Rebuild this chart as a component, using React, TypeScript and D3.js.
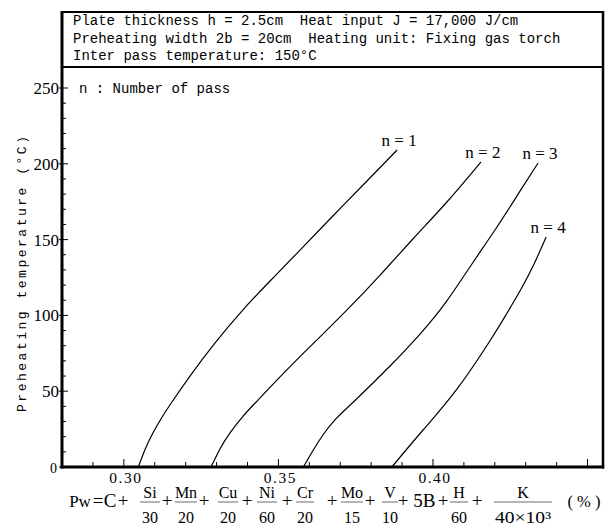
import React from "react";
import * as d3 from "d3";

// ---- Data ----
const pass1: [number, number][] = [
  [0.3047, 0], [0.3068, 11.2], [0.3094, 22.4], [0.312, 31.7], [0.3149, 40.9], [0.3214, 60.0], [0.3292, 81.1],
  [0.3379, 102.2], [0.3473, 122.7], [0.357, 143.1], [0.3673, 164.9], [0.3777, 186.7], [0.3884, 209.1],
];
const pass2: [number, number][] = [
  [0.3282, 0], [0.3311, 11.9], [0.3343, 22.4], [0.3386, 33.6], [0.3431, 43.5], [0.3521, 62.7], [0.3618, 82.5],
  [0.3722, 103.6], [0.3829, 126.6], [0.3935, 150.4], [0.4045, 174.8], [0.4155, 201.2],
];
const pass3: [number, number][] = [
  [0.3581, 0], [0.3609, 9.9], [0.3644, 21.1], [0.3686, 31.7], [0.3751, 44.5], [0.3861, 66.6], [0.3958, 87.7],
  [0.4042, 108.8], [0.4126, 133.9], [0.4207, 158.3], [0.4282, 182.1], [0.434, 200.5],
];
const pass4: [number, number][] = [
  [0.3867, 0], [0.3968, 24.4], [0.4078, 51.5], [0.4184, 83.1], [0.4236, 100.3],
  [0.4285, 117.4], [0.4327, 133.9], [0.4366, 151.7],
];
const seriesData = [pass1, pass2, pass3, pass4];
const seriesLabels = ["n = 1", "n = 2", "n = 3", "n = 4"];

const yTickLabels = [0, 50, 100, 150, 200, 250];
const yMinorTicks = d3.range(0, 251, 10);
const xTickLabels = [0.3, 0.35, 0.4];
const xMinorTicks = d3.range(29, 46).map((v) => v / 100);

const headerLines = [
  "Plate thickness h = 2.5cm  Heat input J = 17,000 J/cm",
  "Preheating width 2b = 20cm  Heating unit: Fixing gas torch",
  "Inter pass temperature: 150\u00B0C",
];
const noteText = "n : Number of pass";
const yTitle = "Preheating temperature (\u00B0C)";

// ---- Layout ----
const W = 607;
const H = 525;
const left = 62;
const right = 603;
const plotTop = 67;
const boxTop = 12;
const bottom = 467;

const x = d3.scaleLinear().domain([0.28, 0.455]).range([left, right]);
const y = d3.scaleLinear().domain([0, 250]).range([bottom, 88]);

const mono = "'Liberation Mono', 'DejaVu Sans Mono', monospace";
const serif = "'Liberation Serif', 'DejaVu Serif', serif";

type Tok =
  | { t: "m"; s: string; cx: number; size?: number; len?: number }
  | { t: "f"; n: string; d: string; cx: number; w: number; dlen?: number };

const formula: Tok[] = [
  { t: "m", s: "Pw", cx: 80, size: 17 },
  { t: "m", s: "=", cx: 98 },
  { t: "m", s: "C", cx: 110 },
  { t: "m", s: "+", cx: 123 },
  { t: "f", n: "Si", d: "30", cx: 150, w: 20 },
  { t: "m", s: "+", cx: 167 },
  { t: "f", n: "Mn", d: "20", cx: 186, w: 22 },
  { t: "m", s: "+", cx: 204 },
  { t: "f", n: "Cu", d: "20", cx: 228, w: 20 },
  { t: "m", s: "+", cx: 247 },
  { t: "f", n: "Ni", d: "60", cx: 267, w: 20 },
  { t: "m", s: "+", cx: 287 },
  { t: "f", n: "Cr", d: "20", cx: 305, w: 18 },
  { t: "m", s: "+", cx: 332 },
  { t: "f", n: "Mo", d: "15", cx: 352, w: 22 },
  { t: "m", s: "+", cx: 370 },
  { t: "f", n: "V", d: "10", cx: 390, w: 16 },
  { t: "m", s: "+", cx: 403 },
  { t: "m", s: "5", cx: 418 },
  { t: "m", s: "B", cx: 429 },
  { t: "m", s: "+", cx: 443 },
  { t: "f", n: "H", d: "60", cx: 459, w: 18 },
  { t: "m", s: "+", cx: 477 },
  { t: "f", n: "K", d: "40\u00D710\u00B3", cx: 523, w: 58, dlen: 56 },
  { t: "m", s: "( % )", cx: 584, size: 17, len: 33 },
];

export default function App() {
  const line = d3
    .line<[number, number]>()
    .x((d) => x(d[0]))
    .y((d) => y(d[1]))
    .curve(d3.curveNatural);

  const mainBase = 507;
  const numBase = 498;
  const denBase = 523;
  const barY = 502;

  return (
    <svg width={W} height={H} style={{ display: "block", position: "absolute", left: 0, top: 0, background: "#fff" }}>
      <rect x={0} y={0} width={W} height={H} fill="#fff" />

      {/* header box */}
      <line x1={left} x2={right + 1} y1={boxTop} y2={boxTop} stroke="#000" strokeWidth={2} />
      <line x1={left} x2={right + 1} y1={plotTop} y2={plotTop} stroke="#000" strokeWidth={2} />
      {headerLines.map((s, i) => (
        <text
          key={i}
          x={73}
          y={25 + i * 17.5}
          fontFamily={mono}
          fontSize={14}
          fill="#000"
          style={{ whiteSpace: "pre" }}
          xmlSpace="preserve"
        >
          {s}
        </text>
      ))}

      {/* frame */}
      <line x1={left} x2={left} y1={boxTop - 1} y2={bottom + 1.5} stroke="#000" strokeWidth={3} />
      <line x1={right} x2={right} y1={boxTop - 1} y2={bottom + 1.5} stroke="#000" strokeWidth={2.5} />
      <line x1={left - 1.5} x2={right + 1.2} y1={bottom} y2={bottom} stroke="#000" strokeWidth={3} />

      {/* y ticks */}
      {yMinorTicks.map((v) => {
        const major = v % 50 === 0;
        return (
          <line
            key={"ym" + v}
            x1={major ? left - 3 : left}
            x2={left + (major ? 6 : 4)}
            y1={y(v)}
            y2={y(v)}
            stroke="#000"
            strokeWidth={1}
          />
        );
      })}
      {yTickLabels.map((v) => (
        <text
          key={"yl" + v}
          x={v === 0 ? 57 : 59}
          y={y(v) + 6}
          textAnchor="end"
          fontFamily={serif}
          fontSize={v === 0 ? 14 : 17}
          fill="#000"
        >
          {v}
        </text>
      ))}
      <text
        transform={`translate(26,${274}) rotate(-90)`}
        textAnchor="middle"
        fontFamily={mono}
        fontSize={13}
        textLength={276}
        lengthAdjust="spacing"
        fill="#000"
      >
        {yTitle}
      </text>

      {/* x ticks */}
      {xMinorTicks.map((v) => {
        const major = Math.abs(v * 100 - Math.round(v * 20) * 5) < 1e-6;
        return (
          <line
            key={"xm" + v}
            x1={x(v)}
            x2={x(v)}
            y1={bottom}
            y2={bottom - (major ? 8 : 5)}
            stroke="#000"
            strokeWidth={1}
          />
        );
      })}
      {xTickLabels.map((v) => (
        <text
          key={"xl" + v}
          x={x(v) + 2}
          y={483}
          textAnchor="middle"
          fontFamily={serif}
          fontSize={15.5}
          letterSpacing={1.5}
          fill="#000"
        >
          {v.toFixed(2)}
        </text>
      ))}

      {/* note */}
      <text x={79} y={93} fontFamily={mono} fontSize={14} fill="#000">
        {noteText}
      </text>

      {/* curves */}
      {seriesData.map((d, i) => (
        <path key={"c" + i} d={line(d) || ""} fill="none" stroke="#000" strokeWidth={1.2} />
      ))}
      {seriesData.map((d, i) => {
        const last = d[d.length - 1];
        return (
          <text
            key={"lab" + i}
            x={x(last[0]) + 2}
            y={y(last[1]) - 4}
            textAnchor="middle"
            fontFamily={serif}
            fontSize={17}
            fill="#000"
          >
            {seriesLabels[i]}
          </text>
        );
      })}

      {/* formula */}
      {formula.map((tk, i) =>
        tk.t === "m" ? (
          <text
            key={"f" + i}
            x={tk.cx}
            y={mainBase}
            textAnchor="middle"
            fontFamily={serif}
            fontSize={tk.size ?? 19}
            textLength={tk.len}
            lengthAdjust={tk.len ? "spacingAndGlyphs" : undefined}
            fill="#000"
          >
            {tk.s}
          </text>
        ) : (
          <g key={"f" + i}>
            <text x={tk.cx} y={numBase} textAnchor="middle" fontFamily={serif} fontSize={16} fill="#000">
              {tk.n}
            </text>
            <line x1={tk.cx - tk.w / 2} x2={tk.cx + tk.w / 2} y1={barY} y2={barY} stroke="#444" strokeWidth={0.8} />
            <text
              x={tk.cx}
              y={denBase}
              textAnchor="middle"
              fontFamily={serif}
              fontSize={16}
              textLength={tk.dlen}
              lengthAdjust={tk.dlen ? "spacingAndGlyphs" : undefined}
              fill="#000"
            >
              {tk.d}
            </text>
          </g>
        )
      )}
    </svg>
  );
}
